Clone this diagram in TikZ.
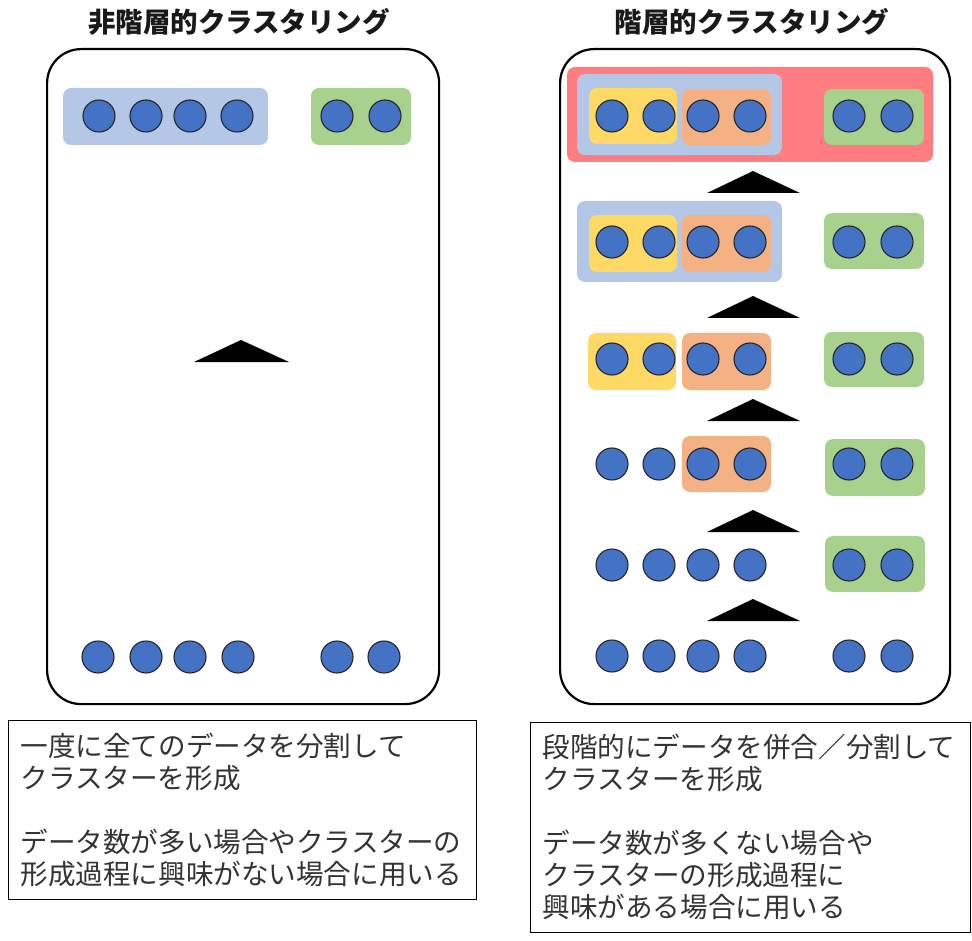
\documentclass[tikz,border=0pt]{standalone}
\usepackage{fontspec}
\setmainfont{Noto Sans CJK JP}
\usetikzlibrary{positioning}
\definecolor{dotblue}{HTML}{4472C4}
\definecolor{paleblue}{HTML}{B4C7E7}
\definecolor{leaf}{HTML}{A9D18E}
\definecolor{butter}{HTML}{FFD966}
\definecolor{peach}{HTML}{F4B183}
\definecolor{rose}{HTML}{FF7C80}
\begin{document}
\begin{tikzpicture}
	[x=1pt,y=-1pt,
	every node/.style={inner sep=0pt},
	dot/.style={circle,fill=dotblue,draw=black!85,line width=1.1pt,minimum size=32pt},
	panel/.style={draw,line width=2.2pt,rounded corners=34pt,anchor=north west},
	group/.style={fill=#1,rounded corners=8pt},
	title/.style={font=\fontsize{27.5}{30}\selectfont\bfseries,text=black!90},
	note/.style={draw,line width=0.8pt,anchor=north west,align=left,
		font=\fontsize{27.6}{32}\selectfont,text=black!80,inner xsep=12pt}]
	\useasboundingbox (0,0) rectangle (972,941);
	\node[title] (ltitle) at (239,22) {非階層的クラスタリング};
	\node[title] (rtitle) at (752,22) {階層的クラスタリング};
	\node[panel,minimum width=392,minimum height=655] (lpanel) at (46,48) {};
	\node[panel,minimum width=390,minimum height=655] (rpanel) at (559,48) {};
	\path[group=paleblue] (63,88) rectangle (268,145);
	\path[group=leaf] (311,88) rectangle (411,145);
	\foreach \x [count=\i] in {99,146,190,237,337,385}
		\node[dot] (lt\i) at (\x,116) {};
	\foreach \x [count=\i] in {98,146,190,238,337,384}
		\node[dot] (lb\i) at (\x,657) {};
	\fill (194,362) -- (241,340) -- (289,362) -- cycle;
	\path[group=rose] (567,67) rectangle (933,162);
	\path[group=paleblue] (577,74) rectangle (782,155);
	\path[group=butter] (589,88) rectangle (677,144);
	\path[group=peach] (682,89) rectangle (771,145);
	\path[group=leaf] (824,89) rectangle (924,145);
	\path[group=paleblue] (577,201) rectangle (782,282);
	\path[group=butter] (589,215) rectangle (677,272);
	\path[group=peach] (682,215) rectangle (771,272);
	\path[group=leaf] (824,213) rectangle (924,269);
	\path[group=butter] (588,333) rectangle (676,390);
	\path[group=peach] (682,333) rectangle (771,390);
	\path[group=leaf] (824,332) rectangle (924,387);
	\path[group=peach] (682,436) rectangle (771,492);
	\path[group=leaf] (825,439) rectangle (925,496);
	\path[group=leaf] (825,536) rectangle (925,592);
	\foreach \r/\y in {1/116,2/242,3/359,4/464,5/565,6/656}
		\foreach \x [count=\i] in {612,659,703,750,849,897}
			\node[dot] (r\r\i) at (\x,\y) {};
	\foreach \b in {193,318,421,532,621}
		\fill (707,\b) -- (753,\b-22) -- (800,\b) -- cycle;
	\node[note,minimum width=468,minimum height=179,text width=444] (lnote) at (8,720)
		{一度に全てのデータを分割して\\クラスターを形成\\\mbox{}\\データ数が多い場合やクラスターの\\形成過程に興味がない場合に用いる};
	\node[note,minimum width=440,minimum height=210,text width=416] (rnote) at (530,722)
		{段階的にデータを併合／分割して\\クラスターを形成\\\mbox{}\\データ数が多くない場合や\\クラスターの形成過程に\\興味がある場合に用いる};
\end{tikzpicture}
\end{document}
